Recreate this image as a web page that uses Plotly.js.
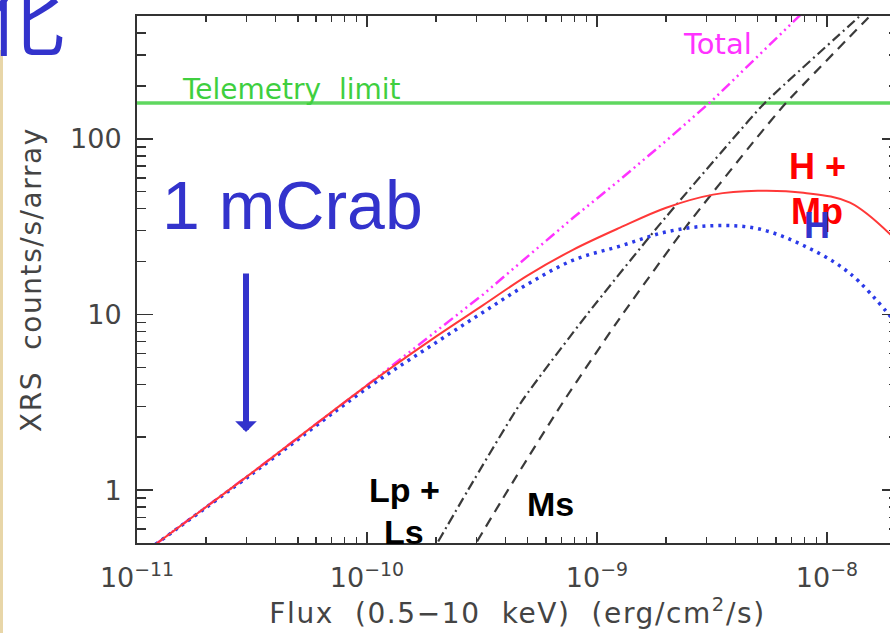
<!DOCTYPE html>
<html>
<head>
<meta charset="utf-8">
<script src="https://cdn.plot.ly/plotly-3.0.1.min.js"></script>
<style>
html,body{margin:0;padding:0;overflow:hidden;background:#fff;}
#chart{width:898px;height:633px;}
#chart .xtitle, #chart .ytitle{letter-spacing:1.6px;}
</style>
</head>
<body>
<div id="chart"></div>
<script>
// ---- data ----
const flux   = [1.2e-11, 3.2e-11, 1.0e-10, 2.0e-10, 3.2e-10, 5.0e-10, 7.9e-10, 1.26e-9, 2.0e-9, 3.2e-9, 5.0e-9, 7.9e-9, 1.26e-8, 2.05e-8];
const hMp    = [0.49, 1.27, 3.95, 7.5, 11.3, 16.7, 23.4, 31.2, 40.5, 48.1, 50.6, 49.3, 43.3, 25.6];
const hOnly  = [0.49, 1.25, 3.80, 6.93, 10.3, 14.9, 20.4, 24.5, 29.5, 32.0, 30.8, 24.7, 17.1, 8.55];
const totalFlux = [1.2e-11, 3.2e-11, 1.0e-10, 2.0e-10, 3.2e-10, 5.0e-10, 7.9e-10, 1.26e-9, 2.0e-9, 3.2e-9, 5.0e-9, 7.9e-9, 1.26e-8];
const total  = [0.49, 1.27, 3.95, 8.0, 13.0, 21.4, 35.6, 58.5, 97.4, 167, 296, 527, 925];
const lpLsFlux = [2.04e-10, 2.75e-10, 4.68e-10, 9.06e-10, 1.84e-9, 3.90e-9, 5.37e-9, 1.36e-8, 1.70e-8];
const lpLs     = [0.51, 1.0, 3.16, 10, 31.6, 100, 160, 487, 641];
const msFlux = [3.01e-10, 4.10e-10, 7.11e-10, 1.29e-9, 2.44e-9, 4.91e-9, 6.64e-9, 1.48e-8, 1.78e-8];
const ms     = [0.51, 1.0, 3.16, 10, 31.6, 100, 160, 475, 608];
const telemetryFlux = [1e-11, 2.1e-8];
const telemetry     = [160, 160];

const xTickVals = [1e-11, 1e-10, 1e-9, 1e-8];
const xTickText = ['10<sup>\u221211</sup>', '10<sup>\u221210</sup>', '10<sup>\u22129</sup>', '10<sup>\u22128</sup>'];
const yTickVals = [1, 10, 100];
const yTickText = ['1', '10', '100'];

// minor tick positions (2..9 in each decade)
function minorTicks(lo, hi) {
  const out = [];
  for (let e = lo; e <= hi; e++) for (let m = 2; m <= 9; m++) out.push(m * Math.pow(10, e));
  return out;
}

const traces = [
  {x: telemetryFlux, y: telemetry, mode: 'lines', line: {color: 'rgb(95,215,95)', width: 3.5}},
  {x: totalFlux, y: total, mode: 'lines', line: {color: '#ff33ff', width: 2.5, dash: '11px,4px,2px,4px,2px,4px,2px,4px'}},
  {x: lpLsFlux, y: lpLs, mode: 'lines', line: {color: '#3a3a3a', width: 2.2, dash: '10px,4px,2px,4px', shape: 'spline', smoothing: 0.6}},
  {x: msFlux, y: ms, mode: 'lines', line: {color: '#3a3a3a', width: 2.2, dash: '10px,7px', shape: 'spline', smoothing: 0.6}},
  {x: flux, y: hOnly, mode: 'lines', line: {color: '#2b3ae8', width: 3.5, dash: '3px,5px', shape: 'spline', smoothing: 1}},
  {x: flux, y: hMp, mode: 'lines', line: {color: '#ff3838', width: 2, shape: 'spline', smoothing: 1}}
];

const tickFont = {family: 'DejaVu Sans', size: 27, color: '#444'};
const W = 761, H = 527, L = 137, B = 543;
const px = v => (v - L) / W;
const py = v => (B - v) / H;
function label(x, y, text, font) {
  return {xref: 'paper', yref: 'paper', x: px(x), y: py(y), text: text, showarrow: false,
          xanchor: 'center', yanchor: 'middle', font: font};
}

const layout = {
  width: 898, height: 633,
  margin: {l: 137, r: 0, t: 16, b: 90},
  paper_bgcolor: '#fff', plot_bgcolor: '#fff',
  showlegend: false,
  xaxis: {
    type: 'log', range: [-11, -7.691],
    tickmode: 'array', tickvals: xTickVals, ticktext: xTickText,
    ticks: 'inside', ticklen: 11, tickwidth: 1.5, tickcolor: '#333',
    minor: {tickmode: 'array', tickvals: minorTicks(-11, -8), ticks: 'inside', ticklen: 6, tickwidth: 1.5, tickcolor: '#333', showgrid: false},
    showline: true, linecolor: '#333', linewidth: 2, mirror: 'allticks',
    showgrid: false, zeroline: false,
    tickfont: tickFont, ticklabelstandoff: 10,
    title: {text: 'Flux  (0.5\u221210  keV)  (erg/cm<sup>2</sup>/s)', font: {family: 'DejaVu Sans', size: 28, color: '#444'}, standoff: 6}
  },
  yaxis: {
    type: 'log', range: [Math.log10(0.5), Math.log10(500)],
    tickmode: 'array', tickvals: yTickVals, ticktext: yTickText,
    ticks: 'inside', ticklen: 16, tickwidth: 1.5, tickcolor: '#333',
    minor: {tickmode: 'array', tickvals: minorTicks(-1, 2), ticks: 'inside', ticklen: 9, tickwidth: 1.5, tickcolor: '#333', showgrid: false},
    showline: true, linecolor: '#333', linewidth: 2, mirror: 'allticks',
    showgrid: false, zeroline: false,
    tickfont: tickFont, ticklabelstandoff: 8,
    title: {text: 'XRS  counts/s/array', font: {family: 'DejaVu Sans', size: 28, color: '#444'}, standoff: 20}
  },
  shapes: [
    {type: 'rect', xref: 'paper', yref: 'paper', x0: px(0), x1: px(3), y0: py(633), y1: py(50), fillcolor: '#e8d6a8', line: {width: 0}, layer: 'above'}
  ],
  annotations: [
    label(25, 14, '\u5316', {family: 'Noto Sans CJK JP', size: 80, color: '#3333cc'}),
    label(291, 89, 'Telemetry  limit', {family: 'DejaVu Sans', size: 28, color: '#3fcf3f'}),
    label(717, 44, 'Total', {family: 'DejaVu Sans', size: 29, color: '#ff33ff'}),
    label(292, 205, '1 mCrab', {family: 'Liberation Sans', size: 68, color: '#3333cc'}),
    {xref: 'paper', yref: 'paper', x: px(246), y: py(432), text: '', showarrow: true, ax: 0, ay: -160, arrowhead: 1, arrowwidth: 6, arrowsize: 0.6, arrowcolor: '#3333cc', standoff: 0},
    label(817, 166, '<b>H +</b>', {family: 'Liberation Sans', size: 36, color: '#ff0000'}),
    label(817, 211, '<b>Mp</b>', {family: 'Liberation Sans', size: 36, color: '#ff0000'}),
    label(817, 225, '<b>H</b>', {family: 'Liberation Sans', size: 36, color: '#3333cc'}),
    label(404, 490, '<b>Lp +</b>', {family: 'Liberation Sans', size: 34, color: '#000'}),
    label(404, 532, '<b>Ls</b>', {family: 'Liberation Sans', size: 34, color: '#000'}),
    label(550, 504, '<b>Ms</b>', {family: 'Liberation Sans', size: 34, color: '#000'})
  ]
};

Plotly.newPlot('chart', traces, layout, {displayModeBar: false, staticPlot: true});
</script>
</body>
</html>
